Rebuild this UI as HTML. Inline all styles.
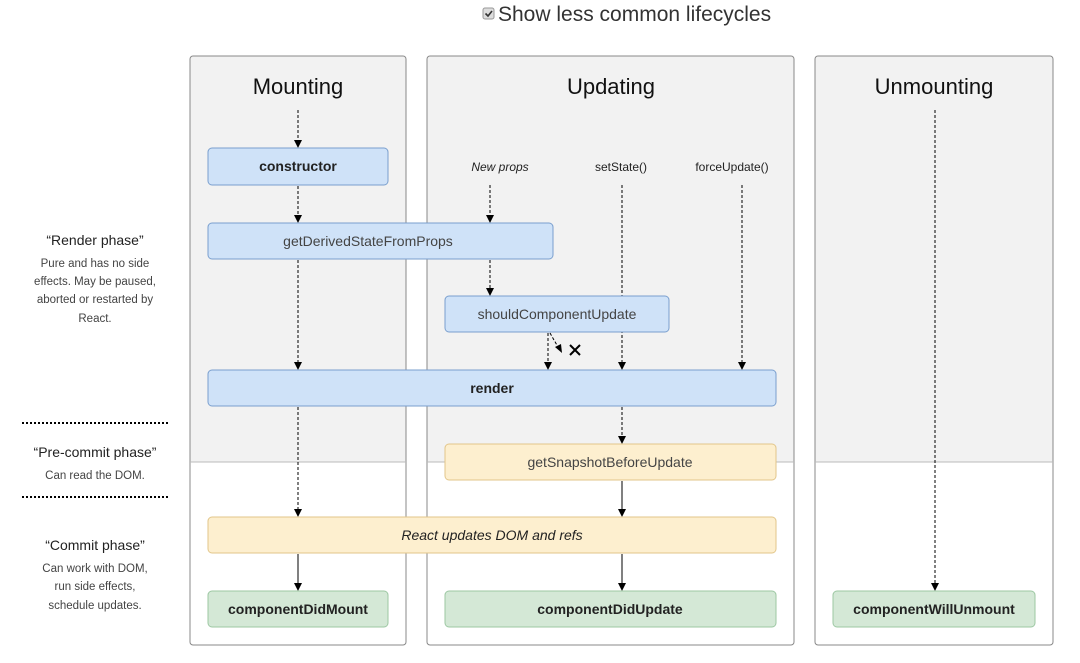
<!DOCTYPE html>
<html><head><meta charset="utf-8"><style>
html,body{margin:0;padding:0;background:#fff;}
svg{display:block;font-family:"Liberation Sans",sans-serif;}
</style></head><body>
<svg width="1080" height="663" viewBox="0 0 1080 663" xmlns="http://www.w3.org/2000/svg">
<!-- header -->
<rect x="483" y="8" width="11" height="11" rx="2" fill="#ddd" stroke="#999"/>
<path d="M485.5,13.5 l2.5,2.5 l4,-5" stroke="#333" stroke-width="1.6" fill="none"/>
<text x="498" y="21" font-size="21" fill="#333">Show less common lifecycles</text>

<!-- columns -->
<g stroke="#888" stroke-width="1">
<path d="M190,462 V59 a3,3 0 0 1 3,-3 H403 a3,3 0 0 1 3,3 V462 z" fill="#f2f2f2"/>
<path d="M427,462 V59 a3,3 0 0 1 3,-3 H791 a3,3 0 0 1 3,3 V462 z" fill="#f2f2f2"/>
<path d="M815,462 V59 a3,3 0 0 1 3,-3 H1050 a3,3 0 0 1 3,3 V462 z" fill="#f2f2f2"/>
<path d="M190,462 V642 a3,3 0 0 0 3,3 H403 a3,3 0 0 0 3,-3 V462" fill="#fff"/>
<path d="M427,462 V642 a3,3 0 0 0 3,3 H791 a3,3 0 0 0 3,-3 V462" fill="#fff"/>
<path d="M815,462 V642 a3,3 0 0 0 3,3 H1050 a3,3 0 0 0 3,-3 V462" fill="#fff"/>
</g>
<line x1="190" y1="462" x2="406" y2="462" stroke="#bbb"/>
<line x1="427" y1="462" x2="794" y2="462" stroke="#bbb"/>
<line x1="815" y1="462" x2="1053" y2="462" stroke="#bbb"/>

<g font-size="22" fill="#111" text-anchor="middle">
<text x="298" y="94">Mounting</text>
<text x="611" y="94">Updating</text>
<text x="934" y="94">Unmounting</text>
</g>

<!-- left labels -->
<g text-anchor="middle" fill="#222">
<text x="95" y="245" font-size="14">“Render phase”</text>
<text x="95" y="267" font-size="11.5" fill="#444">Pure and has no side</text>
<text x="95" y="285" font-size="11.5" fill="#444">effects. May be paused,</text>
<text x="95" y="303" font-size="11.5" fill="#444">aborted or restarted by</text>
<text x="95" y="322" font-size="11.5" fill="#444">React.</text>
<text x="95" y="457" font-size="14">“Pre-commit phase”</text>
<text x="95" y="479" font-size="11.5" fill="#444">Can read the DOM.</text>
<text x="95" y="550" font-size="14">“Commit phase”</text>
<text x="95" y="572" font-size="11.5" fill="#444">Can work with DOM,</text>
<text x="95" y="590" font-size="11.5" fill="#444">run side effects,</text>
<text x="95" y="609" font-size="11.5" fill="#444">schedule updates.</text>
</g>
<line x1="22" y1="423" x2="170" y2="423" stroke="#000" stroke-width="2" stroke-dasharray="2,2"/>
<line x1="22" y1="497" x2="170" y2="497" stroke="#000" stroke-width="2" stroke-dasharray="2,2"/>

<!-- update source labels -->
<g font-size="12" text-anchor="middle" fill="#222">
<text x="500" y="171" font-style="italic">New props</text>
<text x="621" y="171">setState()</text>
<text x="732" y="171">forceUpdate()</text>
</g>

<!-- arrows -->
<g stroke="#000" stroke-width="1" fill="none">
<g stroke-dasharray="3,2">
<line x1="298" y1="110" x2="298" y2="140"/>
<line x1="298" y1="186" x2="298" y2="215"/>
<line x1="298" y1="260" x2="298" y2="362"/>
<line x1="298" y1="407" x2="298" y2="509"/>
<line x1="490" y1="185" x2="490" y2="215"/>
<line x1="490" y1="260" x2="490" y2="288"/>
<line x1="622" y1="185" x2="622" y2="362"/>
<line x1="742" y1="185" x2="742" y2="362"/>
<line x1="548" y1="333" x2="548" y2="362"/>
<line x1="550" y1="333" x2="558" y2="347"/>
<line x1="622" y1="407" x2="622" y2="436"/>
<line x1="935" y1="110" x2="935" y2="583"/>
</g>
<line x1="298" y1="554" x2="298" y2="583"/>
<line x1="622" y1="481" x2="622" y2="509"/>
<line x1="622" y1="554" x2="622" y2="583"/>
</g>
<g fill="#000">
<path d="M294,140 h8 l-4,8 z"/>
<path d="M294,215 h8 l-4,8 z"/>
<path d="M294,362 h8 l-4,8 z"/>
<path d="M294,509 h8 l-4,8 z"/>
<path d="M294,583 h8 l-4,8 z"/>
<path d="M486,215 h8 l-4,8 z"/>
<path d="M486,288 h8 l-4,8 z"/>
<path d="M618,362 h8 l-4,8 z"/>
<path d="M738,362 h8 l-4,8 z"/>
<path d="M544,362 h8 l-4,8 z"/>
<path d="M618,436 h8 l-4,8 z"/>
<path d="M618,509 h8 l-4,8 z"/>
<path d="M618,583 h8 l-4,8 z"/>
<path d="M931,583 h8 l-4,8 z"/>
<path d="M555,347 l6,-3 l1,9 z"/>
</g>
<path d="M570,345 l10,10 M580,345 l-10,10" stroke="#000" stroke-width="2"/>

<!-- boxes -->
<g stroke-width="1">
<rect x="208" y="148" width="180" height="37" rx="4" fill="#cfe2f8" stroke="#7a9fce"/>
<rect x="208" y="223" width="345" height="36" rx="4" fill="#cfe2f8" stroke="#7a9fce"/>
<rect x="445" y="296" width="224" height="36" rx="4" fill="#cfe2f8" stroke="#7a9fce"/>
<rect x="208" y="370" width="568" height="36" rx="4" fill="#cfe2f8" stroke="#7a9fce"/>
<rect x="445" y="444" width="331" height="36" rx="4" fill="#fdefcf" stroke="#e2c68a"/>
<rect x="208" y="517" width="568" height="36" rx="4" fill="#fdefcf" stroke="#e2c68a"/>
<rect x="208" y="591" width="180" height="36" rx="4" fill="#d4e8d6" stroke="#9cc7a2"/>
<rect x="445" y="591" width="331" height="36" rx="4" fill="#d4e8d6" stroke="#9cc7a2"/>
<rect x="833" y="591" width="202" height="36" rx="4" fill="#d4e8d6" stroke="#9cc7a2"/>
</g>
<g text-anchor="middle" font-size="14" fill="#222">
<text x="298" y="171" font-weight="bold">constructor</text>
<text x="368" y="246" fill="#444">getDerivedStateFromProps</text>
<text x="557" y="319" fill="#444">shouldComponentUpdate</text>
<text x="492" y="393" font-weight="bold">render</text>
<text x="610" y="467" fill="#444">getSnapshotBeforeUpdate</text>
<text x="492" y="540" font-style="italic">React updates DOM and refs</text>
<text x="298" y="614" font-weight="bold">componentDidMount</text>
<text x="610" y="614" font-weight="bold">componentDidUpdate</text>
<text x="934" y="614" font-weight="bold">componentWillUnmount</text>
</g>
</svg>
</body></html>
